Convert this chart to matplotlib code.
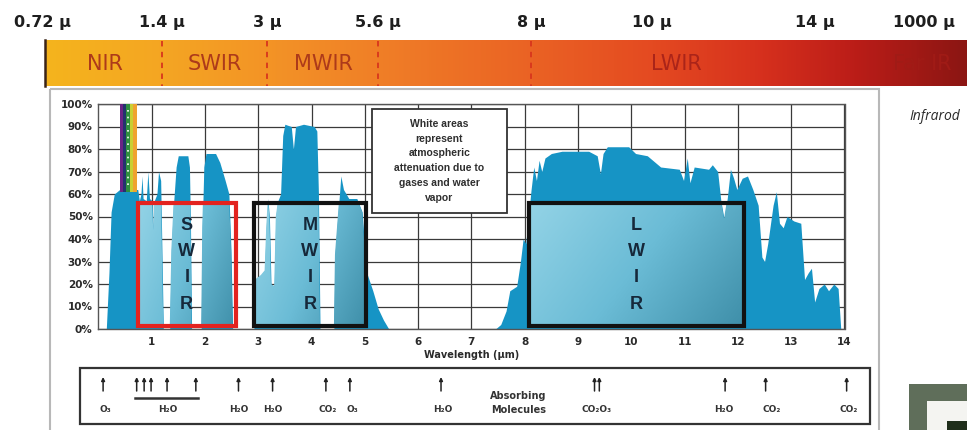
import numpy as np
import matplotlib
matplotlib.use("Agg")
import matplotlib.pyplot as plt
from matplotlib.patches import Rectangle
from matplotlib.colors import LinearSegmentedColormap
from matplotlib.transforms import blended_transform_factory

# ---------------- data ----------------
band_edge_labels = ["0.72 µ", "1.4 µ", "3 µ", "5.6 µ", "8 µ", "10 µ", "14 µ", "1000 µ"]
band_names = ["NIR", "SWIR", "MWIR", "LWIR", "Far IR"]

wavelength = [
    0.15, 0.20, 0.24, 0.30, 0.40, 0.74, 0.77, 0.80, 0.82, 0.84, 0.90, 0.93, 0.96, 1.01, 1.03, 1.05,
    1.10, 1.13, 1.17, 1.19, 1.22,
    1.34, 1.37, 1.41, 1.46, 1.50, 1.68, 1.71, 1.73, 1.75,
    1.93, 1.95, 1.98, 2.02, 2.20, 2.28, 2.38, 2.45, 2.49, 2.52,
    2.92, 2.94, 3.05, 3.12, 3.15, 3.18, 3.21, 3.24, 3.30, 3.33, 3.37, 3.42, 3.46, 3.50, 3.62, 3.66,
    3.70, 3.85, 4.05, 4.10, 4.13, 4.16,
    4.42, 4.44, 4.50, 4.55, 4.60, 4.70, 4.85, 4.95, 5.00, 5.05, 5.15, 5.25, 5.35, 5.45,
    7.45, 7.55, 7.65, 7.72, 7.85, 7.92, 7.97, 8.02, 8.07, 8.12, 8.17, 8.22, 8.27, 8.32, 8.38, 8.50,
    8.70, 9.20, 9.36, 9.42, 9.47, 9.55, 9.95, 10.08, 10.30, 10.45, 10.55, 10.90, 10.98, 11.05, 11.10,
    11.18, 11.45, 11.52, 11.62, 11.68, 11.74, 11.80, 11.86, 11.92, 11.98, 12.08, 12.18, 12.28, 12.38,
    12.45, 12.50, 12.56, 12.66, 12.72, 12.78, 12.85, 12.92, 13.05, 13.18, 13.25, 13.32, 13.38, 13.44,
    13.52, 13.62, 13.70, 13.80, 13.88, 13.93, 14.0,
]
transmission = [
    0, 25, 52, 60, 62, 62, 57, 60, 68, 58, 57, 70, 58, 57, 44, 57,
    60, 70, 66, 40, 0,
    0, 35, 55, 72, 77, 77, 72, 45, 0,
    0, 45, 72, 78, 78, 74, 66, 60, 35, 0,
    0, 22, 24, 26, 45, 58, 50, 20, 19, 50, 57, 60, 86, 91, 90, 80,
    90, 91, 90, 88, 60, 0,
    0, 33, 52, 68, 62, 58, 58, 52, 35, 24, 17, 9, 4, 0,
    0, 2, 8, 17, 19, 30, 40, 38, 50, 62, 72, 66, 75, 70, 76, 78,
    79, 79, 77, 69, 78, 81, 81, 78, 77, 74, 72, 71, 66, 76, 65,
    72, 71, 73, 70, 57, 49, 58, 71, 67, 62, 67, 68, 62, 55,
    32, 30, 38, 55, 61, 47, 45, 50, 48, 47, 22, 25, 27, 12,
    18, 20, 17, 20, 18, 0, 0,
]

visible_edges = [0.41, 0.47, 0.52, 0.59, 0.65, 0.73]
visible_colors = ["#6a2384", "#23336e", "#2f8f3f", "#c9cf33", "#f0a230"]

window_names = ["SWIR", "MWIR", "LWIR"]
window_start = [0.74, 2.92, 8.08]
window_end = [2.58, 5.02, 12.11]
window_edge = ["#e3231f", "#111111", "#111111"]

x_ticks = list(range(1, 15))
y_ticks = list(range(0, 101, 10))
y_ticklabels = [f"{v}%" for v in y_ticks]

arrow_positions = [0.09, 0.72, 0.86, 0.99, 1.29, 1.83, 2.63, 3.27, 4.27, 4.72, 6.43,
                   9.31, 9.40, 11.76, 12.52, 14.04]
molecule_labels = ["O₃", "H₂O", "H₂O", "H₂O", "CO₂", "O₃", "H₂O", "CO₂O₃", "H₂O", "CO₂", "CO₂"]
molecule_label_x = [0.13, 1.31, 2.63, 3.27, 4.31, 4.76, 6.47, 9.35, 11.74, 12.63, 14.08]
h2o_group = [0.69, 1.87]

note_text = "White areas\nrepresent\natmospheric\nattenuation due to\ngases and water\nvapor"

# ---------------- figure ----------------
W, H = 967, 430
fig = plt.figure(figsize=(W / 100, H / 100), dpi=100)
fig.patch.set_facecolor("white")

deco = fig.add_axes([0, 0, 1, 1], zorder=0)
deco.set_facecolor("none")
deco.axis("off")

# top gradient band
band_cmap = LinearSegmentedColormap.from_list(
    "band",
    [(0.0, "#f5b41d"), (0.13, "#f4a523"), (0.25, "#f39226"), (0.36, "#f07f27"),
     (0.53, "#ea6224"), (0.66, "#e44a21"), (0.78, "#d6301d"), (0.88, "#bb1d18"),
     (1.0, "#8c1613")])
deco.imshow(np.linspace(0, 1, 400)[None, :], cmap=band_cmap, aspect="auto",
            extent=(45, 967, 86, 40), interpolation="bicubic")
deco.plot([45, 45], [40, 86], color="#3a2418", lw=1.8)
edge_px = [42, 162, 267, 378, 531, 652, 815, 924]
for xp, lab in zip(edge_px, band_edge_labels):
    deco.text(xp, 23, lab, ha="center", va="center", fontsize=11.5, fontweight="bold",
              color="#1e1e1e", family=["DejaVu Sans"])
for xp in edge_px[1:5]:
    deco.plot([xp, xp], [41, 86], color="#d8351d", lw=1.3, ls=(0, (3, 3)))
name_px = [105, 215, 323, 676, 922]
name_col = ["#ad3a1a", "#ad3a1a", "#ad3a1a", "#ab2419", "#a01b16"]
for xp, lab, c in zip(name_px, band_names, name_col):
    deco.text(xp, 64, lab, ha="center", va="center", fontsize=15, color=c,
              family=["DejaVu Sans"])

# frame around chart
deco.add_patch(Rectangle((50, 89), 829, 345, fill=False, ec="#b8b8b8", lw=1.5))
deco.text(909, 117, "Infrarod", ha="left", va="center", fontsize=10, style="italic",
          color="#2a2a2a", family=["Open Sans", "DejaVu Sans"])
deco.add_patch(Rectangle((909, 384), 60, 50, fc="#5f6e5a", ec="none"))
deco.add_patch(Rectangle((927, 401), 45, 40, fc="#f4f4f1", ec="none"))
deco.add_patch(Rectangle((947, 421), 25, 20, fc="#1f2e1b", ec="none"))

# ---------------- main chart ----------------
ax = fig.add_axes([98.3 / W, (H - 329) / H, (844.5 - 98.3) / W, (329 - 104) / H], zorder=1)
ax.set_xlim(0, 14)
ax.set_ylim(0, 100)
ax.set_axisbelow(True)
ax.grid(True, color="#3a3a3a", lw=0.9)
for s in ax.spines.values():
    s.set_color("#555555")
    s.set_linewidth(1.0)

blue = "#1694c5"
poly = ax.fill_between(wavelength, transmission, 0, color=blue, lw=0, zorder=2)
spec_path = poly.get_paths()[0]

# visible rainbow stripes
for x0, x1, c in zip(visible_edges[:-1], visible_edges[1:], visible_colors):
    ax.fill_between([x0, x1], [61, 61], [100, 100], color=c, lw=0, zorder=3)
ax.plot([0.555, 0.555], [64, 99], color="white", lw=1.2, ls=(0, (1, 3)), zorder=3.5)

# window boxes with gradient where spectrum is present
win_cmap = LinearSegmentedColormap.from_list("win", ["#93d3e6", "#6bbcd6", "#3f8fa9"])
gx = np.linspace(0, 1, 200)
gy = np.linspace(0, 1, 100)
grad = 0.7 * gx[None, :] + 0.3 * (1 - gy[:, None])
top, bot = 56, 1.5
for name, x0, x1, ec in zip(window_names, window_start, window_end, window_edge):
    im = ax.imshow(grad, cmap=win_cmap, origin="lower", aspect="auto",
                   extent=(x0, x1, bot, top), zorder=4, interpolation="bilinear")
    im.set_clip_path(spec_path, ax.transData)
    ax.add_patch(Rectangle((x0, bot), x1 - x0, top - bot, fill=False, ec=ec, lw=3.0,
                           zorder=6, joinstyle="miter"))
    cx = (x0 + x1) / 2
    for ch, yy in zip(name, [46, 34.5, 23, 11]):
        ax.text(cx, yy, ch, ha="center", va="center", fontsize=13, fontweight="bold",
                color="#16283a", zorder=7, family=["Liberation Sans", "DejaVu Sans"])
ax.set_xlim(0, 14)
ax.set_ylim(0, 100)

# note box
ax.add_patch(Rectangle((5.13, 51.5), 2.54, 46.5, fc="white", ec="#333333", lw=1.3, zorder=8))
ax.text(6.4, 74.8, note_text, ha="center", va="center", fontsize=7.5, fontweight="bold",
        color="#2e2e2e", linespacing=1.6, zorder=9, family=["Liberation Sans", "DejaVu Sans"])

ax.set_xticks(x_ticks)
ax.set_xticklabels([str(v) for v in x_ticks])
ax.set_yticks(y_ticks)
ax.set_yticklabels(y_ticklabels)
ax.tick_params(length=0, labelsize=7.5, colors="#2a2a2a")
ax.tick_params(axis="x", pad=6)
ax.tick_params(axis="y", pad=4)
for t in ax.get_xticklabels() + ax.get_yticklabels():
    t.set_fontweight("bold")
    t.set_family(["DejaVu Sans"])
ax.set_xlabel("Wavelength (µm)", fontsize=7, fontweight="bold", color="#2a2a2a",
              labelpad=2, family=["DejaVu Sans"])

# ---------------- absorbing molecules strip ----------------
tr = blended_transform_factory(ax.transData, deco.transData)
deco.add_patch(Rectangle((80, 368), 790, 56, fill=False, ec="#333333", lw=1.6))
for xa in arrow_positions:
    deco.annotate("", xy=(xa, 377), xycoords=tr, xytext=(xa, 391), textcoords=tr,
                  arrowprops=dict(arrowstyle="-|>", color="#222222", lw=1.1,
                                  mutation_scale=5, shrinkA=0, shrinkB=0))
deco.plot(h2o_group, [398, 398], transform=tr, color="#333333", lw=1.8)
for lab, xl in zip(molecule_labels, molecule_label_x):
    deco.text(xl, 410, lab, transform=tr, ha="center", va="center", fontsize=6.5,
              fontweight="bold", color="#333333", family=["DejaVu Sans"])
deco.text(7.88, 403, "Absorbing\nMolecules", transform=tr, ha="center", va="center",
          fontsize=7, fontweight="bold", color="#333333", linespacing=1.5,
          family=["DejaVu Sans"])

deco.set_xlim(0, W)
deco.set_ylim(H, 0)

fig.savefig("out.png", dpi=100, facecolor="white")
